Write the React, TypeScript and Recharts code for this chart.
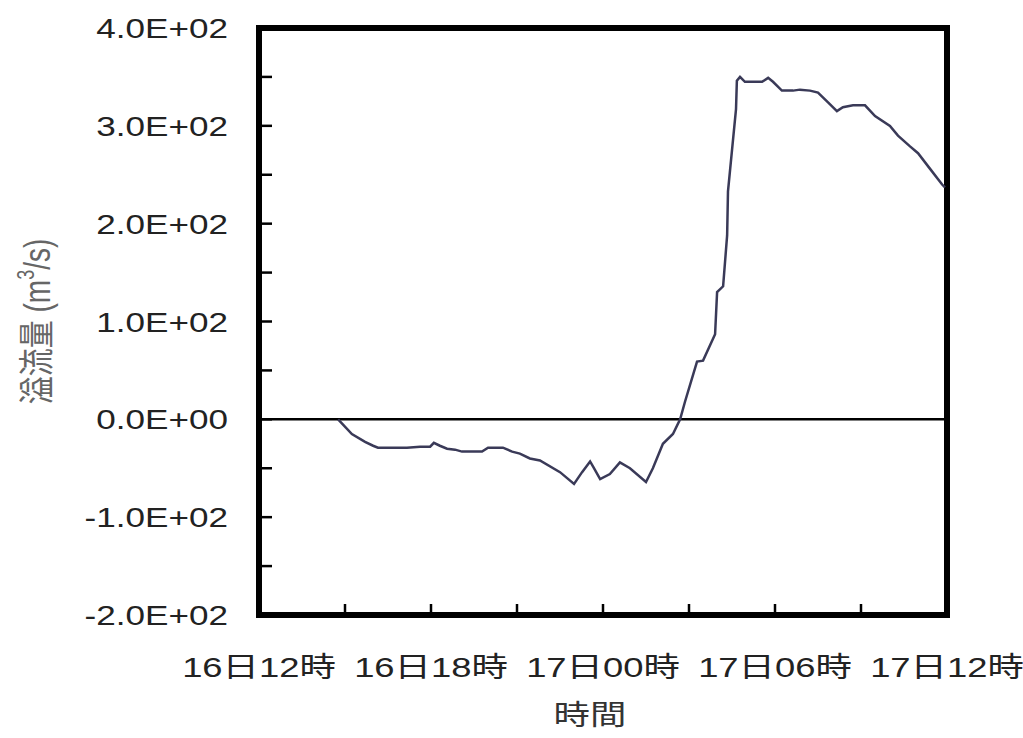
import { LineChart, Line, XAxis, YAxis, ReferenceArea, ReferenceLine } from 'recharts';

// hours elapsed since 16日12時
const HOURS = [
  2.76, 3.24, 3.7, 3.98, 4.15, 5.16, 5.62, 5.97, 6.1, 6.31, 6.56, 6.84, 7.08, 7.78, 7.99, 8.51,
  8.83, 9.1, 9.45, 9.8, 10.5, 10.99, 11.27, 11.55, 11.65, 11.9, 12.24, 12.59, 12.94, 13.5, 13.74,
  14.09, 14.44, 14.69, 14.86, 15.28, 15.49, 15.91, 15.98, 16.19, 16.33, 16.36, 16.64, 16.67, 16.78,
  16.95, 17.55, 17.76, 17.93, 18.24, 18.63, 18.87, 19.22, 19.5, 19.85, 20.16, 20.37, 20.72, 21.14,
  21.49, 22.01, 22.29, 22.71, 22.99, 23.41, 23.83, 23.93,
];
// 溢流量 (m3/s)
const FLOW = [
  0, -15, -23, -27, -29, -29, -28, -28, -24, -27, -30, -31, -33, -33, -29, -29,
  -33, -35, -40, -42, -54, -66, -54, -43, -48, -61, -56, -44, -50, -64, -50,
  -25, -15, 0, 18, 59, 60, 87, 130, 136, 188, 233, 317, 346, 350,
  345, 345, 349, 345, 336, 336, 337, 336, 334, 324, 315, 319, 321, 321,
  310, 300, 290, 279, 272, 256, 240, 237,
];

const X_TICKS = [0, 3, 6, 9, 12, 15, 18, 21, 24];
const X_LABELS: Record<number, string> = {
  0: '16日12時',
  6: '16日18時',
  12: '17日00時',
  18: '17日06時',
  24: '17日12時',
};
const Y_TICKS = [-200, -150, -100, -50, 0, 50, 100, 150, 200, 250, 300, 350, 400];
const Y_LABELS: Record<number, string> = {
  400: '4.0E+02',
  300: '3.0E+02',
  200: '2.0E+02',
  100: '1.0E+02',
  0: '0.0E+00',
  '-100': '-1.0E+02',
  '-200': '-2.0E+02',
};

const data = HOURS.map((h, i) => ({ h, v: FLOW[i] }));

const FONT = "'Liberation Sans', 'Noto Sans CJK JP', sans-serif";
const STRETCH = 1.3; // the source picture is wider than tall

function XTick({ x, y, payload }: any) {
  const label = X_LABELS[payload.value];
  return (
    <g>
      <line x1={x} y1={y} x2={x} y2={y - 11} stroke="#000" strokeWidth={2.5} />
      {label && (
        <text
          transform={`translate(${x},${y + 62}) scale(${STRETCH},1)`}
          textAnchor="middle"
          fontSize={28}
          fontFamily={FONT}
          fill="#222"
        >
          {label}
        </text>
      )}
    </g>
  );
}

function YTick({ x, y, payload }: any) {
  const label = Y_LABELS[payload.value];
  return (
    <g>
      <line x1={x} y1={y} x2={x + 13} y2={y} stroke="#000" strokeWidth={2.5} />
      {label && (
        <text
          transform={`translate(${x - 31},${y + 10}) scale(${STRETCH},1)`}
          textAnchor="end"
          fontSize={27}
          fontFamily={FONT}
          fill="#222"
        >
          {label}
        </text>
      )}
    </g>
  );
}

function XTitle({ viewBox }: any) {
  const cx = viewBox.x + viewBox.width / 2 - 13;
  return (
    <text
      transform={`translate(${cx},${viewBox.y + 110}) scale(${STRETCH},1)`}
      textAnchor="middle"
      fontSize={28}
      fontFamily={FONT}
      fill="#333"
    >
      時間
    </text>
  );
}

function YTitle({ viewBox }: any) {
  const cy = viewBox.y + viewBox.height / 2;
  return (
    <text
      transform={`translate(50,${cy}) rotate(-90) scale(1,${STRETCH})`}
      textAnchor="middle"
      fontSize={28}
      fontFamily={FONT}
      fill="#666"
    >
      溢流量 (m
      <tspan dy={-12} fontSize={18}>3</tspan>
      <tspan dy={12}>/s)</tspan>
    </text>
  );
}

export default function App() {
  return (
    <div style={{ position: 'absolute', left: 0, top: 0, background: '#fff' }}>
      <LineChart
        width={1023}
        height={738}
        data={data}
        margin={{ top: 28, right: 76, bottom: 83, left: 199 }}
      >
        <XAxis
          dataKey="h"
          type="number"
          domain={[0, 24]}
          ticks={X_TICKS}
          interval={0}
          height={40}
          tickSize={0}
          tickMargin={0}
          axisLine={false}
          tickLine={false}
          tick={<XTick />}
          label={{ content: (p: any) => <XTitle {...p} /> }}
        />
        <YAxis
          type="number"
          domain={[-200, 400]}
          ticks={Y_TICKS}
          interval={0}
          width={60}
          tickSize={0}
          tickMargin={0}
          axisLine={false}
          tickLine={false}
          tick={<YTick />}
          label={{ content: (p: any) => <YTitle {...p} /> }}
        />
        <ReferenceLine y={0} stroke="#000" strokeWidth={2.5} />
        <Line
          dataKey="v"
          type="linear"
          stroke="#3a3a58"
          strokeWidth={2.5}
          dot={false}
          isAnimationActive={false}
        />
        <ReferenceArea x1={0} x2={24} y1={-200} y2={400} fill="none" stroke="#000" strokeWidth={6} />
      </LineChart>
    </div>
  );
}
